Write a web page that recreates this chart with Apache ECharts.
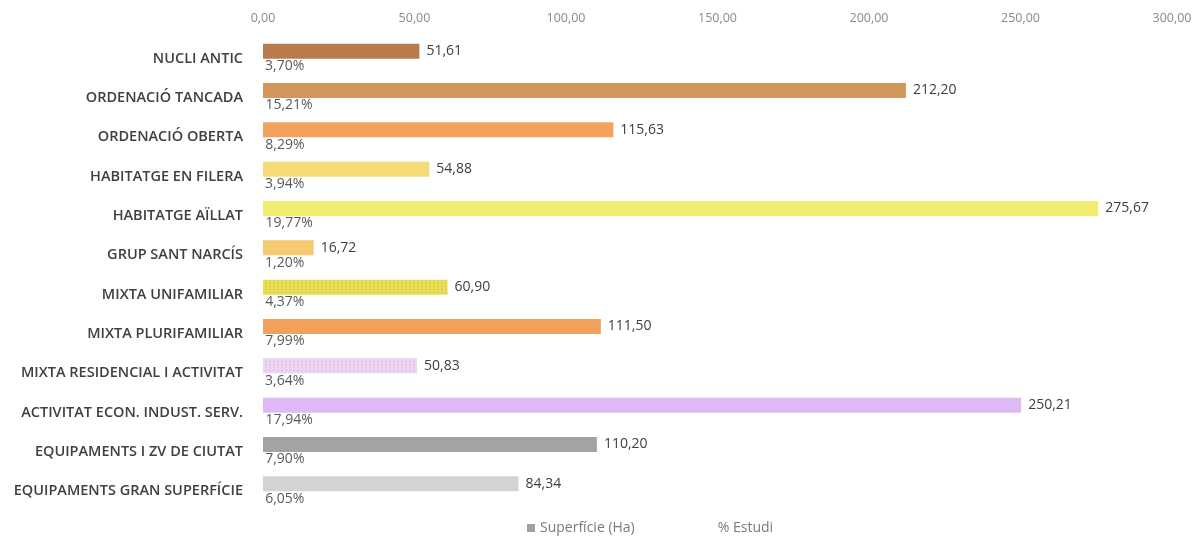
<!DOCTYPE html>
<html><head><meta charset="utf-8">
<script src="https://cdn.jsdelivr.net/npm/echarts@6/dist/echarts.min.js"></script>
<style>html,body{margin:0;padding:0;background:#fff}#c{width:1203px;height:541px}</style>
</head><body><div id="c"></div>
<script>
const categories = ["NUCLI ANTIC","ORDENACIÓ TANCADA","ORDENACIÓ OBERTA","HABITATGE EN FILERA","HABITATGE AÏLLAT","GRUP SANT NARCÍS","MIXTA UNIFAMILIAR","MIXTA PLURIFAMILIAR","MIXTA RESIDENCIAL I ACTIVITAT","ACTIVITAT ECON. INDUST. SERV.","EQUIPAMENTS I ZV DE CIUTAT","EQUIPAMENTS GRAN SUPERFÍCIE"];
const superficie = [51.61,212.20,115.63,54.88,275.67,16.72,60.90,111.50,50.83,250.21,110.20,84.34];
const estudiPct = [3.70,15.21,8.29,3.94,19.77,1.20,4.37,7.99,3.64,17.94,7.90,6.05];
const barColors = ["#B97B4B","#D4975B","#F3A25C","#F5DA78","#F1EE6F","#F6CA72","#EADF55","#F2A15C","#ECD6F3","#DDBAF4","#A3A3A3","#D3D3D3"];
const dotted = [false,false,false,false,false,false,true,false,true,false,false,false];
const xTicks = [0,50,100,150,200,250,300];

const fmt = v => v.toFixed(2).replace('.', ',');
const font = '"Open Sans", "Noto Sans", sans-serif';

const supData = superficie.map((v,i)=>{
  const st = {color: barColors[i]};
  if (dotted[i]) st.decal = {symbol:'circle', symbolSize:0.5, dashArrayX:[4,0], dashArrayY:[3,0], color: i===6 ? 'rgba(190,170,60,0.6)' : 'rgba(200,170,220,0.7)'};
  return {value: v, itemStyle: st};
});
const pctData = estudiPct.map(v => v/100);

const chart = echarts.init(document.getElementById('c'));
chart.setOption({
  animation: false,
  textStyle: {fontFamily: font},
  grid: {left: 263, right: 31, top: 39, bottom: 30},
  xAxis: {
    type: 'value', position: 'top', min: xTicks[0], max: xTicks[xTicks.length-1], interval: 50,
    axisLabel: {formatter: v => fmt(v), color: '#8a8a8a', fontSize: 12.5, margin: 14, fontFamily: font},
    axisLine: {show: false}, axisTick: {show: false}, splitLine: {show: false}
  },
  yAxis: {
    type: 'category', data: categories, inverse: true,
    axisLabel: {color: '#404040', fontSize: 14.5, fontWeight: 600, margin: 20, fontFamily: font},
    axisLine: {show: false}, axisTick: {show: false}
  },
  legend: {
    bottom: 1, left: 522, itemGap: 70, itemWidth: 8, itemHeight: 8,
    textStyle: {color: '#7a7a7a', fontSize: 14, fontFamily: font},
    data: [{name: 'Superfície (Ha)', icon: 'rect', itemStyle: {color: '#a0a0a0'}}, {name: '% Estudi', icon: 'none'}]
  },
  series: [
    {
      name: 'Superfície (Ha)', type: 'bar', data: supData, barWidth: 15, barGap: '0%',
      itemStyle: {color: '#a0a0a0'},
      label: {show: true, position: 'right', distance: 7, color: '#404040', fontSize: 14, formatter: p => fmt(p.value), fontFamily: font}
    },
    {
      name: '% Estudi', type: 'bar', data: pctData, barWidth: 15,
      itemStyle: {color: 'rgba(255,255,255,0)'},
      label: {show: true, position: 'right', distance: 2, color: '#595959', fontSize: 14, formatter: p => fmt(p.value*100) + '%', fontFamily: font}
    }
  ]
});
</script></body></html>
